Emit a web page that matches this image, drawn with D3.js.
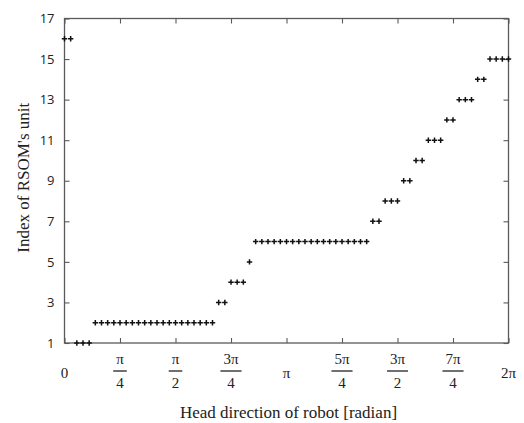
<!DOCTYPE html>
<html>
<head>
<meta charset="utf-8">
<script src="https://cdn.jsdelivr.net/npm/d3@7/dist/d3.min.js"></script>
<style>
  html, body { margin: 0; padding: 0; background: #fff; }
  svg { display: block; }
</style>
</head>
<body>
<svg id="chart" width="524" height="423"></svg>
<script>
// ---- data ----
// head direction samples (degrees)
const headDirectionDeg = [
  0, 5, 10, 15, 20, 25, 30, 35, 40, 45, 50, 55, 60, 65, 70, 75, 80, 85, 90, 95,
  100, 105, 110, 115, 120, 125, 130, 135, 140, 145, 150, 155, 160, 165, 170, 175,
  180, 185, 190, 195, 200, 205, 210, 215, 220, 225, 230, 235, 240, 245, 250, 255,
  260, 265, 270, 275, 280, 285, 290, 295, 300, 305, 310, 315, 320, 325, 330, 335,
  340, 345, 350, 355, 360
];
// index of winning RSOM unit
const unitIndex = [
  16, 16,
  1, 1, 1,
  2, 2, 2, 2, 2, 2, 2, 2, 2, 2, 2, 2, 2, 2, 2, 2, 2, 2, 2, 2,
  3, 3,
  4, 4, 4,
  5,
  6, 6, 6, 6, 6, 6, 6, 6, 6, 6, 6, 6, 6, 6, 6, 6, 6, 6, 6,
  7, 7,
  8, 8, 8,
  9, 9,
  10, 10,
  11, 11, 11,
  12, 12,
  13, 13, 13,
  14, 14,
  15, 15, 15, 15
];
// x ticks: multiples of pi
const xTickMultiples = [0, 0.25, 0.5, 0.75, 1, 1.25, 1.5, 1.75, 2];
const xTickNumerators = ["0", "π", "π", "3π", "π", "5π", "3π", "7π", "2π"];
const xTickDenominators = ["", "4", "2", "4", "", "4", "2", "4", ""];
const yTicks = [1, 3, 5, 7, 9, 11, 13, 15, 17];

const xTitle = "Head direction of robot [radian]";
const yTitle = "Index of RSOM's unit";

// ---- layout ----
(function () {
const svg = d3.select("#chart");
const pL = 64.5, pR = 508.5, pT = 18.5, pB = 343;
const serif = "'Liberation Serif', 'Times New Roman', serif";
const sans = "'Open Sans', 'Noto Sans', sans-serif";
const frameColor = "#5a5a5a";

const x = d3.scaleLinear().domain([0, 2 * Math.PI]).range([pL, pR]);
const y = d3.scaleLinear().domain([1, 17]).range([pB, pT]);

const xTickVals = xTickMultiples.map(m => m * Math.PI);

// frame
svg.append("rect")
  .attr("x", pL).attr("y", pT)
  .attr("width", pR - pL).attr("height", pB - pT)
  .attr("fill", "none").attr("stroke", frameColor).attr("stroke-width", 1.3);

const tickLen = 5;
const gb = svg.append("g").attr("transform", `translate(0,${pB})`)
  .call(d3.axisBottom(x).tickValues(xTickVals).tickSizeInner(-tickLen).tickSizeOuter(0).tickFormat(""));
const gt = svg.append("g").attr("transform", `translate(0,${pT})`)
  .call(d3.axisTop(x).tickValues(xTickVals).tickSizeInner(-tickLen).tickSizeOuter(0).tickFormat(""));
const gl = svg.append("g").attr("transform", `translate(${pL},0)`)
  .call(d3.axisLeft(y).tickValues(yTicks).tickSizeInner(-tickLen).tickSizeOuter(0).tickFormat(""));
const gr = svg.append("g").attr("transform", `translate(${pR},0)`)
  .call(d3.axisRight(y).tickValues(yTicks).tickSizeInner(-tickLen).tickSizeOuter(0).tickFormat(""));

[gb, gt, gl, gr].forEach(g => {
  g.select(".domain").remove();
  g.selectAll(".tick line").attr("stroke", frameColor).attr("stroke-width", 1.1);
});

// y tick labels
svg.append("g").selectAll("text")
  .data(yTicks).join("text")
  .attr("x", pL - 10)
  .attr("y", d => y(d))
  .attr("dy", "0.36em")
  .attr("text-anchor", "end")
  .attr("font-family", sans)
  .attr("font-size", 13)
  .attr("fill", "#222")
  .text(d => d);

// x tick labels (fractions of pi)
const labelG = svg.append("g");
xTickVals.forEach((v, i) => {
  const cx = x(v);
  const den = xTickDenominators[i];
  const g = labelG.append("g");
  if (den === "") {
    g.append("text")
      .attr("x", cx).attr("y", 373)
      .attr("dy", "0.35em")
      .attr("text-anchor", "middle")
      .attr("font-family", serif).attr("font-size", 15)
      .attr("fill", "#222")
      .text(xTickNumerators[i]);
  } else {
    const num = g.append("text")
      .attr("x", cx).attr("y", 359)
      .attr("dy", "0.35em")
      .attr("text-anchor", "middle")
      .attr("font-family", serif).attr("font-size", 15)
      .attr("fill", "#222")
      .text(xTickNumerators[i]);
    const w = num.node().getComputedTextLength() + 6;
    g.append("line")
      .attr("x1", cx - w / 2).attr("x2", cx + w / 2)
      .attr("y1", 371).attr("y2", 371)
      .attr("stroke", "#222").attr("stroke-width", 1.3);
    g.append("text")
      .attr("x", cx).attr("y", 383)
      .attr("dy", "0.35em")
      .attr("text-anchor", "middle")
      .attr("font-family", serif).attr("font-size", 15)
      .attr("fill", "#222")
      .text(den);
  }
});

// axis titles
svg.append("text")
  .attr("x", (pL + pR) / 2 + 2).attr("y", 418)
  .attr("text-anchor", "middle")
  .attr("font-family", serif).attr("font-size", 17)
  .attr("fill", "#222")
  .text(xTitle);

svg.append("text")
  .attr("transform", `translate(29,${(pT + pB) / 2 - 3}) rotate(-90)`)
  .attr("text-anchor", "middle")
  .attr("font-family", serif).attr("font-size", 17)
  .attr("fill", "#222")
  .text(yTitle);

// data markers (+)
const pts = headDirectionDeg.map((d, i) => ({ a: d * Math.PI / 180, u: unitIndex[i] }));
const s = 2.7;
svg.append("g").selectAll("path")
  .data(pts).join("path")
  .attr("d", d => {
    const px = x(d.a), py = y(d.u);
    return `M${px - s},${py}H${px + s}M${px},${py - s}V${py + s}`;
  })
  .attr("stroke", "#111")
  .attr("stroke-width", 1.5)
  .attr("fill", "none");
})();
</script>
</body>
</html>
